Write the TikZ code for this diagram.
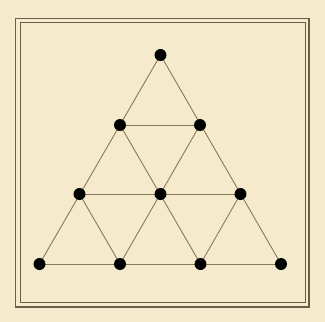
\documentclass[tikz,border=0pt]{standalone}
\usepackage{xcolor}
\usepackage{tikz}
\usetikzlibrary{positioning, calc}
\definecolor{paperBack}{RGB}{246,234,204}
\definecolor{frameLine}{RGB}{104,94,74}
\definecolor{gridLine}{RGB}{138,120,90}
\pgfdeclarelayer{front}
\pgfsetlayers{main,front}
\tikzset{
  pegNode/.style={
    circle,
    fill=black,
    inner sep=0pt,
    minimum size=12pt
  },
  gridEdge/.style={draw=gridLine, line width=0.9pt},
  outerFrame/.style={draw=frameLine, line width=1.6pt},
  innerFrame/.style={draw=frameLine, line width=0.9pt}
}

\begin{document}
\begin{tikzpicture}[x=1pt, y=-1pt]
  \useasboundingbox (0,0) rectangle (325,322);
  \fill[paperBack] (0,0) rectangle (325,322);
  \draw[outerFrame] (15.5,18.5) rectangle (309,307);
  \draw[innerFrame] (20,22.5) rectangle (305,302.5);

  \begin{pgfonlayer}{front}
  \node[pegNode] (top) at (160.5,55) {};
  \node[pegNode] (midL) at (120,125) {};
  \node[pegNode] (midR) at (200,125) {};
  \node[pegNode] (rowL) at (79.5,194) {};
  \node[pegNode] (rowC) at (160.5,194) {};
  \node[pegNode] (rowR) at (240.5,194) {};
  \node[pegNode] (baseA) at (39.5,264) {};
  \node[pegNode] (baseB) at (120,264) {};
  \node[pegNode] (baseC) at (200.5,264) {};
  \node[pegNode] (baseD) at (281,264) {};
  \end{pgfonlayer}

  % rows
  \draw[gridEdge] (midL.center) -- (midR.center);
  \draw[gridEdge] (rowL.center) -- (rowR.center);
  \draw[gridEdge] (baseA.center) -- (baseD.center);
  % rising lines
  \draw[gridEdge] (baseA.center) -- (top.center);
  \draw[gridEdge] (baseB.center) -- (midR.center);
  \draw[gridEdge] (baseC.center) -- (rowR.center);
  % falling lines
  \draw[gridEdge] (top.center) -- (baseD.center);
  \draw[gridEdge] (midL.center) -- (baseC.center);
  \draw[gridEdge] (rowL.center) -- (baseB.center);
\end{tikzpicture}
\end{document}
